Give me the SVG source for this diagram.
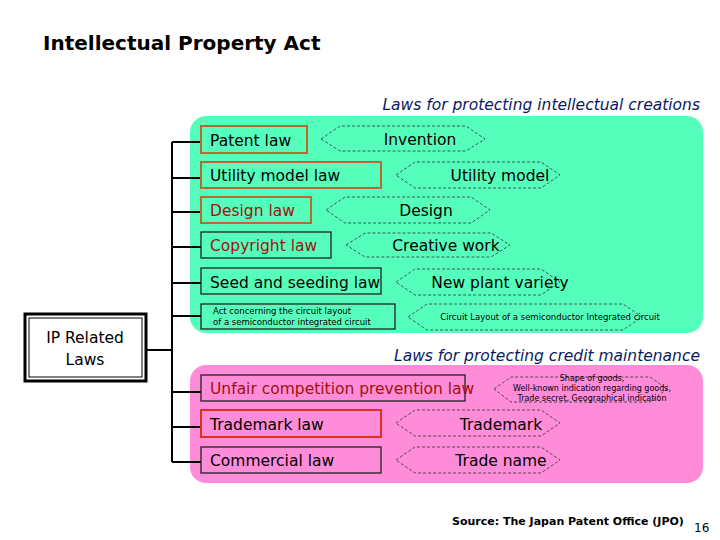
<svg xmlns="http://www.w3.org/2000/svg" width="720" height="540" viewBox="0 0 720 540">
<style>
text{font-family:"DejaVu Sans",Verdana,sans-serif;fill:#000}
.law{fill:none;stroke:#222;stroke-width:1.3}
.org{fill:none;stroke:#b86a30;stroke-width:2}
.red{fill:none;stroke:#e03020;stroke-width:2}
.hex{fill:none;stroke:#333;stroke-width:0.8;stroke-dasharray:3 2}
.t{font-size:15.5px}
.c{font-size:15.5px;text-anchor:middle}
.dr{fill:#a01010}
.hd{font-size:15.5px;font-style:italic;fill:#0a1a60;text-anchor:end}
.con{stroke:#000;stroke-width:2;fill:none}
</style>
<rect width="720" height="540" fill="#fff"/>
<text x="43" y="50" font-size="20" font-weight="bold">Intellectual Property Act</text>
<text class="hd" x="700" y="110">Laws for protecting intellectual creations</text>
<rect x="190" y="116" width="513" height="217" rx="16" fill="#55ffbb"/>
<text class="hd" x="700" y="361">Laws for protecting credit maintenance</text>
<rect x="190" y="365" width="513" height="118" rx="16" fill="#ff8cd8"/>
<g id="connectors">
<path class="con" d="M147 350H172M172 142V462M172 142H201M172 178H201M172 212H201M172 247H201M172 283H201M172 316H201M172 392H201M172 427H201M172 462H201"/>
</g>
<g id="ip"><rect x="25" y="314" width="121" height="67" fill="#fff" stroke="#000" stroke-width="3"/><rect x="29" y="318" width="113" height="59" fill="none" stroke="#000" stroke-width="1"/>
<text class="c" x="85" y="343">IP Related</text><text class="c" x="85" y="365">Laws</text></g>
<g id="patent"><rect class="org" x="201" y="126" width="106" height="27"/><text class="t" x="210" y="146">Patent law</text></g>
<g id="invention"><polygon class="hex" points="321,139 340,126 466,126 485,139 466,151 340,151"/><text class="c" x="420" y="145">Invention</text></g>
<g id="utility"><rect class="org" x="201" y="162" width="180" height="26"/><text class="t" x="210" y="181">Utility model law</text></g>
<g id="utilitymodel"><polygon class="hex" points="396,175 415,162 541,162 560,175 541,188 415,188"/><text class="c" x="500" y="181">Utility model</text></g>
<g id="design"><rect class="org" x="201" y="197" width="110" height="26"/><text class="t dr" x="210" y="216">Design law</text></g>
<g id="designobj"><polygon class="hex" points="326,210 345,197 471,197 490,210 471,223 345,223"/><text class="c" x="426" y="216">Design</text></g>
<g id="copyright"><rect class="law" x="201" y="232" width="130" height="26"/><text class="t dr" x="210" y="251">Copyright law</text></g>
<g id="creative"><polygon class="hex" points="346,245 365,233 491,233 510,245 491,257 365,257"/><text class="c" x="446" y="251">Creative work</text></g>
<g id="seed"><rect class="law" x="201" y="268" width="180" height="26"/><text class="t" x="210" y="288">Seed and seeding law</text></g>
<g id="plant"><polygon class="hex" points="396,282 415,269 541,269 560,282 541,295 415,295"/><text class="c" x="500" y="288">New plant variety</text></g>
<g id="circuitact"><rect class="law" x="201" y="304" width="194" height="25"/><text x="213" y="314" font-size="8.5">Act concerning the circuit layout</text><text x="213" y="325" font-size="8.5">of a semiconductor integrated circuit</text></g>
<g id="circuit"><polygon class="hex" points="408,317 427,304 623,304 642,317 623,330 427,330"/><text x="550" y="320" font-size="8.5" text-anchor="middle">Circuit Layout of a semiconductor Integrated circuit</text></g>
<g id="unfair"><rect class="law" x="201" y="375" width="264" height="26"/><text class="t dr" x="210" y="394">Unfair competition prevention law</text></g>
<g id="unfairobj"><polygon class="hex" points="494,389 511,377 650,377 667,389 650,402 511,402"/><text x="592" y="381" font-size="8" text-anchor="middle">Shape of goods,</text><text x="592" y="391" font-size="8" text-anchor="middle">Well-known indication regarding goods,</text><text x="592" y="401" font-size="8" text-anchor="middle">Trade secret, Geographical indication</text></g>
<g id="trademarklaw"><rect class="red" x="201" y="410" width="180" height="27"/><text class="t" x="210" y="430">Trademark law</text></g>
<g id="trademark"><polygon class="hex" points="396,423 415,410 541,410 560,423 541,436 415,436"/><text class="c" x="501" y="430">Trademark</text></g>
<g id="commercial"><rect class="law" x="201" y="447" width="180" height="26"/><text class="t" x="210" y="466">Commercial law</text></g>
<g id="tradename"><polygon class="hex" points="396,460 415,447 541,447 560,460 541,473 415,473"/><text class="c" x="501" y="466">Trade name</text></g>
<text x="452" y="525" font-size="11" font-weight="bold">Source: The Japan Patent Office (JPO)</text>
<text x="694" y="532" font-size="12">16</text>
</svg>
